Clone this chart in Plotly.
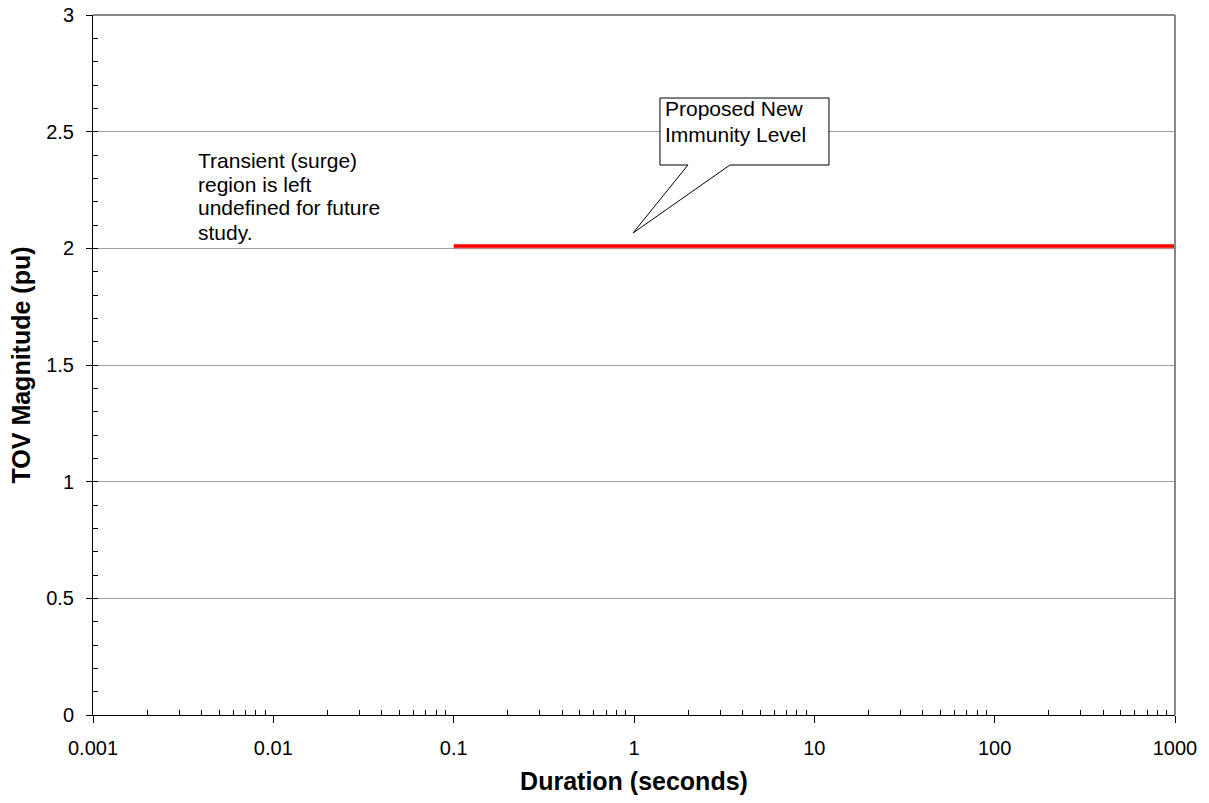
import plotly.graph_objects as go

# Data
line_x = [0.1, 1000]
line_y = [2.01, 2.01]
x_tickvals = [0.001, 0.01, 0.1, 1, 10, 100, 1000]
x_ticktext = ["0.001", "0.01", "0.1", "1", "10", "100", "1000"]
y_tickvals = [0, 0.5, 1, 1.5, 2, 2.5, 3]
y_ticktext = ["0", "0.5", "1", "1.5", "2", "2.5", "3"]
note_lines = ["Transient (surge)", "region is left", "undefined for future", "study."]
callout_lines = ["Proposed New", "Immunity Level"]

FONT = "Liberation Sans, Arial, sans-serif"

x_minor = [k * d for d in x_tickvals[:-1] for k in range(2, 10)]

fig = go.Figure()
# shadow
fig.add_trace(go.Scatter(x=line_x, y=[v - 0.007 for v in line_y], mode="lines",
                         line=dict(color="rgba(210,120,120,0.55)", width=3),
                         hoverinfo="skip", showlegend=False))
fig.add_trace(go.Scatter(x=line_x, y=line_y, mode="lines",
                         line=dict(color="#ff0000", width=3.5), showlegend=False))

L, R, T, B = 93, 34, 15, 88
W, H = 1209, 803
pw, ph = W - L - R, H - T - B

def px(x):
    return (x - L) / pw

def py(y):
    return (H - B - y) / ph

pts = [(660, 98), (829, 98), (829, 165), (730, 165), (633, 233), (688, 165), (660, 165)]
path = "M " + " L ".join(f"{px(a):.4f},{py(b):.4f}" for a, b in pts) + " Z"
fig.add_shape(type="path", path=path, xref="paper", yref="paper",
              line=dict(color="black", width=1), fillcolor="white", layer="above")

for i, t in enumerate(callout_lines):
    fig.add_annotation(x=px(663), y=py(108 + 26 * i), xref="paper", yref="paper", text=t,
                       showarrow=False, xanchor="left", yanchor="middle", align="left",
                       font=dict(family=FONT, size=21, color="black"))
for i, t in enumerate(note_lines):
    fig.add_annotation(x=px(196), y=py(160 + 24 * i), xref="paper", yref="paper", text=t,
                       showarrow=False, xanchor="left", yanchor="middle", align="left",
                       font=dict(family=FONT, size=21, color="black"))

fig.update_layout(
    width=W, height=H, margin=dict(l=L, r=R, t=T, b=B, autoexpand=False),
    plot_bgcolor="white", paper_bgcolor="white",
    font=dict(family=FONT, size=20, color="black"),
    showlegend=False,
)
fig.update_xaxes(type="log", range=[-3, 3], tickvals=x_tickvals, ticktext=x_ticktext,
                 showgrid=False, showline=True, linecolor="black", linewidth=1,
                 ticks="outside", ticklen=7, tickcolor="black", mirror=False,
                 ticklabelstandoff=8, automargin=False,
                 minor=dict(tickvals=x_minor, ticks="inside", ticklen=5, tickcolor="black", showgrid=False),
                 title=dict(text="<b>Duration (seconds)</b>", font=dict(size=25), standoff=14),
                 zeroline=False)
fig.update_yaxes(range=[0, 3], tickvals=y_tickvals, ticktext=y_ticktext,
                 showgrid=True, gridcolor="#a0a0a0", gridwidth=1,
                 showline=True, linecolor="black", linewidth=1,
                 ticks="outside", ticklen=6, tickcolor="black",
                 ticklabelstandoff=8, automargin=False,
                 minor=dict(dtick=0.1, ticks="inside", ticklen=5, tickcolor="black", showgrid=False),
                 title=dict(text="<b>TOV Magnitude (pu)</b>", font=dict(size=25), standoff=8),
                 zeroline=False)
# top and right border
fig.add_shape(type="line", xref="paper", yref="paper", x0=0, x1=1, y0=1, y1=1,
              line=dict(color="#888888", width=2))
fig.add_shape(type="line", xref="paper", yref="paper", x0=1, x1=1, y0=0, y1=1,
              line=dict(color="#888888", width=2))

fig.write_html("out.html")
